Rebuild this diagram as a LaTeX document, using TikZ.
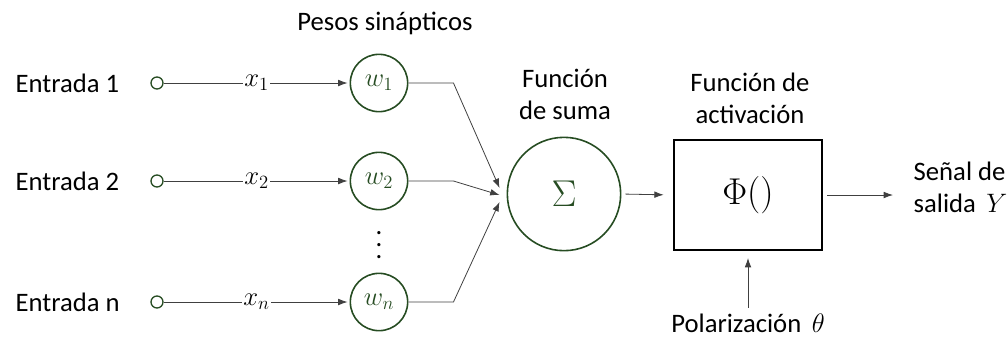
\RequirePackage{fix-cm}
\documentclass[tikz,border=0pt]{standalone}
\usepackage{fontspec}
\setmainfont{Carlito}
\usetikzlibrary{arrows.meta}
\definecolor{neurongreen}{RGB}{38,76,34}
\begin{document}
\begin{tikzpicture}[x=0.75pt,y=-0.75pt]
 \tikzset{directed/.style={-{Latex[length=7pt,width=5pt]}, draw=black!75, line width=0.6pt}}
 \tikzset{neuron/.style={draw=neurongreen, circle, line width=1.2pt, inner sep=0pt}}
 \tikzset{txt/.style={font=\fontsize{20}{24}\selectfont, align=center}}
 \tikzset{big/.style={font=\fontsize{28}{32}\selectfont}}
  \useasboundingbox (0,0) rectangle (1007,337);
  % entradas
  \node[txt, anchor=west] (E1) at (11,83) {Entrada 1};
  \node[txt, anchor=west] (E2) at (11,181) {Entrada 2};
  \node[txt, anchor=west] (En) at (11,302) {Entrada n};
  \node[neuron, minimum size=9pt, line width=1pt] (in1) at (157,83) {};
  \node[neuron, minimum size=9pt, line width=1pt] (in2) at (157,181) {};
  \node[neuron, minimum size=9pt, line width=1pt] (inn) at (157,302) {};
  % pesos
  \node[txt] (PS) at (385,23) {Pesos sinápticos};
  \node[neuron, txt, text=neurongreen, minimum size=43pt] (w1) at (379,83) {$w_1$};
  \node[neuron, txt, text=neurongreen, minimum size=43pt] (w2) at (379,181) {$w_2$};
  \node[neuron, txt, text=neurongreen, minimum size=43pt] (wn) at (379,302) {$w_n$};
  \node[font=\fontsize{20}{9}\selectfont, align=center, inner sep=0pt] (dots) at (379,245) {.\\.\\.};
  \draw[directed, shorten >=1.5pt] (in1) -- node[txt, fill=white, inner sep=1pt] {$x_1$} (w1);
  \draw[directed, shorten >=1.5pt] (in2) -- node[txt, fill=white, inner sep=1pt] {$x_2$} (w2);
  \draw[directed, shorten >=1.5pt] (inn) -- node[txt, fill=white, inner sep=1pt] {$x_n$} (wn);
  % suma
  \node[txt] (FS) at (565,94) {Función\\de suma};
  \node[neuron, big, text=neurongreen, minimum size=85pt] (sum) at (564,194) {$\Sigma$};
  \draw[directed] (w1.east) -- ++(45,0) -- ([shift={(-7,-6)}]sum.west);
  \draw[directed] (w2.east) -- ++(45,0) -- ([shift={(-7,1)}]sum.west);
  \draw[directed] (wn.east) -- ++(45,0) -- ([shift={(-7,8)}]sum.west);
  % activacion
  \node[txt] (FA) at (750,98) {Función de\\activación};
  \node[draw, line width=1.5pt, minimum width=111pt, minimum height=83pt, big] (box) at (748,195) {$\Phi()$};
  \draw[directed, shorten <=3pt, shorten >=7pt] (sum.east) -- (box.west);
  \coordinate (Yout) at (893,195);
  \draw[directed, shorten <=3pt] (box.east) -- (Yout);
  \node[txt, anchor=west, align=left] (Y) at (909,187) {Señal de\\salida \,$Y$};
  \node[txt] (pol) at (748,323) {Polarización \,$\theta$};
  \draw[directed, shorten <=1pt, shorten >=5pt] (pol.north) -- (box.south);
\end{tikzpicture}
\end{document}
